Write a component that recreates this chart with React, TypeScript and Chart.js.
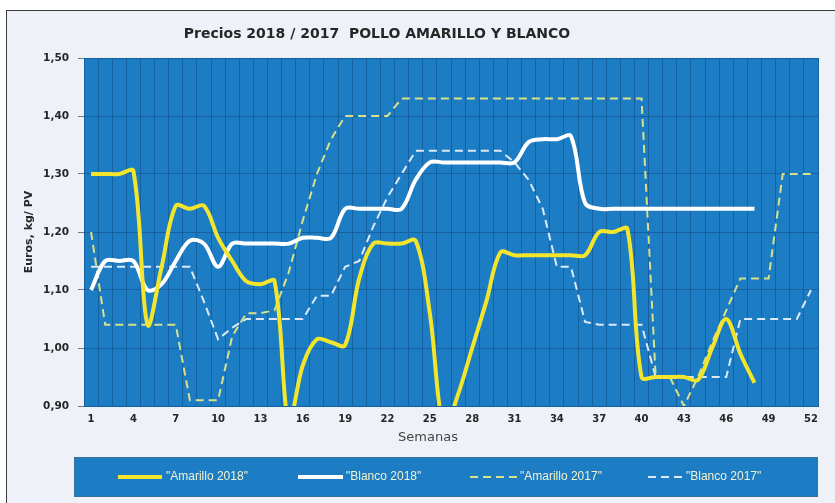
import React, { useEffect, useRef } from 'react';
import { Chart, registerables } from 'chart.js';

Chart.register(...registerables);

const semanas = [
  '1', '2', '3', '4', '5', '6', '7', '8', '9', '10',
  '11', '12', '13', '14', '15', '16', '17', '18', '19', '20',
  '21', '22', '23', '24', '25', '26', '27', '28', '29', '30',
  '31', '32', '33', '34', '35', '36', '37', '38', '39', '40',
  '41', '42', '43', '44', '45', '46', '47', '48', '49', '50',
  '51', '52',
];

const amarillo2018 = [
  1.30, 1.30, 1.30, 1.305, 1.04, 1.14, 1.245, 1.24, 1.245, 1.19,
  1.15, 1.115, 1.11, 1.115, 0.87, 0.97, 1.015, 1.01, 1.005, 1.12,
  1.18, 1.18, 1.18, 1.185, 1.06, 0.86, 0.92, 1.00, 1.08, 1.165,
  1.16, 1.16, 1.16, 1.16, 1.16, 1.16, 1.20, 1.20, 1.205, 0.95,
  0.95, 0.95, 0.95, 0.945, 1.00, 1.05, 0.99, 0.94, null, null,
  null, null,
];

const blanco2018 = [
  1.10, 1.15, 1.15, 1.15, 1.10, 1.11, 1.15, 1.185, 1.18, 1.14,
  1.18, 1.18, 1.18, 1.18, 1.18, 1.19, 1.19, 1.19, 1.24, 1.24,
  1.24, 1.24, 1.24, 1.29, 1.32, 1.32, 1.32, 1.32, 1.32, 1.32,
  1.32, 1.355, 1.36, 1.36, 1.365, 1.25, 1.24, 1.24, 1.24, 1.24,
  1.24, 1.24, 1.24, 1.24, 1.24, 1.24, 1.24, 1.24, null, null,
  null, null,
];

const amarillo2017 = [
  1.20, 1.04, 1.04, 1.04, 1.04, 1.04, 1.04, 0.91, 0.91, 0.91,
  1.02, 1.06, 1.06, 1.065, 1.13, 1.22, 1.30, 1.36, 1.40, 1.40,
  1.40, 1.40, 1.43, 1.43, 1.43, 1.43, 1.43, 1.43, 1.43, 1.43,
  1.43, 1.43, 1.43, 1.43, 1.43, 1.43, 1.43, 1.43, 1.43, 1.43,
  0.95, 0.95, 0.90, 0.95, 1.01, 1.065, 1.12, 1.12, 1.12, 1.30,
  1.30, 1.30,
];

const blanco2017 = [
  1.14, 1.14, 1.14, 1.14, 1.14, 1.14, 1.14, 1.14, 1.08, 1.015,
  1.035, 1.05, 1.05, 1.05, 1.05, 1.05, 1.09, 1.09, 1.14, 1.15,
  1.21, 1.26, 1.30, 1.34, 1.34, 1.34, 1.34, 1.34, 1.34, 1.34,
  1.32, 1.29, 1.24, 1.14, 1.14, 1.045, 1.04, 1.04, 1.04, 1.04,
  0.95, 0.95, 0.95, 0.95, 0.95, 0.95, 1.05, 1.05, 1.05, 1.05,
  1.05, 1.10,
];

const seriesLabels = ['"Amarillo 2018"', '"Blanco 2018"', '"Amarillo 2017"', '"Blanco 2017"'];
const TITLE = 'Precios 2018 / 2017  POLLO AMARILLO Y BLANCO';
const Y_TITLE = 'Euros, kg/ PV';
const X_TITLE = 'Semanas';
const Y_MIN = 0.9;
const Y_MAX = 1.5;
const Y_STEP = 0.1;

const PLOT_BG = '#1c7dc5';
const GRID = '#15609f';
const YELLOW = '#f2e52c';
const WHITE = '#ffffff';
const YELLOW_2017 = '#d9e08a';
const WHITE_2017 = '#dde9f7';
const TEXT = '#262626';

const legendSlots = [
  { x1: 118, x2: 162, tx: 166 },
  { x1: 298, x2: 343, tx: 346 },
  { x1: 470, x2: 517, tx: 520 },
  { x1: 648, x2: 683, tx: 686 },
];

const decor = {
  id: 'decor',
  beforeDraw(chart: any) {
    const { ctx, chartArea: a, width, height } = chart;
    ctx.save();
    ctx.fillStyle = '#ffffff';
    ctx.fillRect(0, 0, width, height);
    ctx.fillStyle = '#eef1f8';
    ctx.fillRect(6, 10, width - 6, height - 10);
    ctx.strokeStyle = '#3a3a3a';
    ctx.lineWidth = 1;
    ctx.strokeRect(6.5, 10.5, width - 4, height);
    ctx.fillStyle = PLOT_BG;
    ctx.fillRect(a.left, a.top, a.right - a.left, a.bottom - a.top);
    ctx.fillStyle = PLOT_BG;
    ctx.fillRect(74, 457, 744, 40);
    ctx.strokeStyle = '#3d6f9c';
    ctx.strokeRect(74.5, 457.5, 743, 39);
    ctx.restore();
  },
  afterDraw(chart: any) {
    const { ctx } = chart;
    ctx.save();
    ctx.fillStyle = TEXT;
    ctx.textAlign = 'center';
    ctx.textBaseline = 'middle';
    ctx.font = 'bold 14px "DejaVu Sans"';
    ctx.fillText(TITLE, 377, 34);
    ctx.fillStyle = '#444444';
    ctx.font = '13px "DejaVu Sans"';
    ctx.fillText(X_TITLE, 428, 438);
    const ds = chart.data.datasets;
    ctx.textAlign = 'left';
    ctx.font = '12px "Liberation Sans"';
    legendSlots.forEach((s, i) => {
      const d = ds[i];
      const y = 477;
      ctx.strokeStyle = d.borderColor;
      ctx.lineWidth = i < 2 ? 4 : 2;
      ctx.setLineDash(d.borderDash || []);
      ctx.beginPath();
      ctx.moveTo(s.x1, y);
      ctx.lineTo(s.x2, y);
      ctx.stroke();
      ctx.setLineDash([]);
      ctx.fillStyle = '#f3f1cf';
      ctx.fillText(d.label, s.tx, y);
    });
    ctx.restore();
  },
};

export default function App() {
  const ref = useRef<HTMLCanvasElement>(null);
  useEffect(() => {
    document.body.style.margin = '0';
    const canvas = ref.current!;
    const chart = new Chart(canvas, {
      type: 'line',
      data: {
        labels: semanas,
        datasets: [
          { label: seriesLabels[0], data: amarillo2018, borderColor: YELLOW, borderWidth: 4, tension: 0.35, pointRadius: 0, order: 1 },
          { label: seriesLabels[1], data: blanco2018, borderColor: WHITE, borderWidth: 4, tension: 0.35, pointRadius: 0, order: 2 },
          { label: seriesLabels[2], data: amarillo2017, borderColor: YELLOW_2017, borderWidth: 2, borderDash: [8, 5], tension: 0, pointRadius: 0, order: 3 },
          { label: seriesLabels[3], data: blanco2017, borderColor: WHITE_2017, borderWidth: 2, borderDash: [8, 5], tension: 0, pointRadius: 0, order: 4 },
        ],
      },
      options: {
        animation: false,
        responsive: false,
        devicePixelRatio: 1,
        layout: { padding: { top: 58, right: 17, left: 0, bottom: 0 } },
        plugins: { legend: { display: false }, title: { display: false }, tooltip: { enabled: false } },
        scales: {
          x: {
            type: 'category',
            offset: true,
            grid: { color: GRID, lineWidth: 1, offset: true, drawTicks: false },
            border: { color: GRID },
            ticks: {
              autoSkip: false,
              maxRotation: 0,
              padding: 7,
              color: TEXT,
              font: { family: '"DejaVu Sans"', size: 10, weight: 'bold' },
              callback: function (this: any, val: any, idx: number) {
                return idx % 3 === 0 ? this.getLabelForValue(val) : '';
              },
            },
            afterFit: (s: any) => { s.height = 97; },
          },
          y: {
            min: Y_MIN,
            max: Y_MAX,
            grid: { color: GRID, lineWidth: 1, tickLength: 6, tickColor: '#777777' },
            border: { color: GRID },
            ticks: {
              stepSize: Y_STEP,
              padding: 9,
              color: TEXT,
              font: { family: '"DejaVu Sans"', size: 10.5, weight: 'bold' },
              callback: (v: any) => Number(v).toFixed(2).replace('.', ','),
            },
            title: {
              display: true,
              text: Y_TITLE,
              color: TEXT,
              font: { family: '"DejaVu Sans"', size: 11, weight: 'bold' },
              padding: { top: 23, bottom: 0 },
            },
            afterFit: (s: any) => { s.width = 84; },
          },
        },
      },
      plugins: [decor],
    });
    return () => chart.destroy();
  }, []);
  return <canvas ref={ref} width={835} height={503} style={{ display: 'block' }} />;
}
